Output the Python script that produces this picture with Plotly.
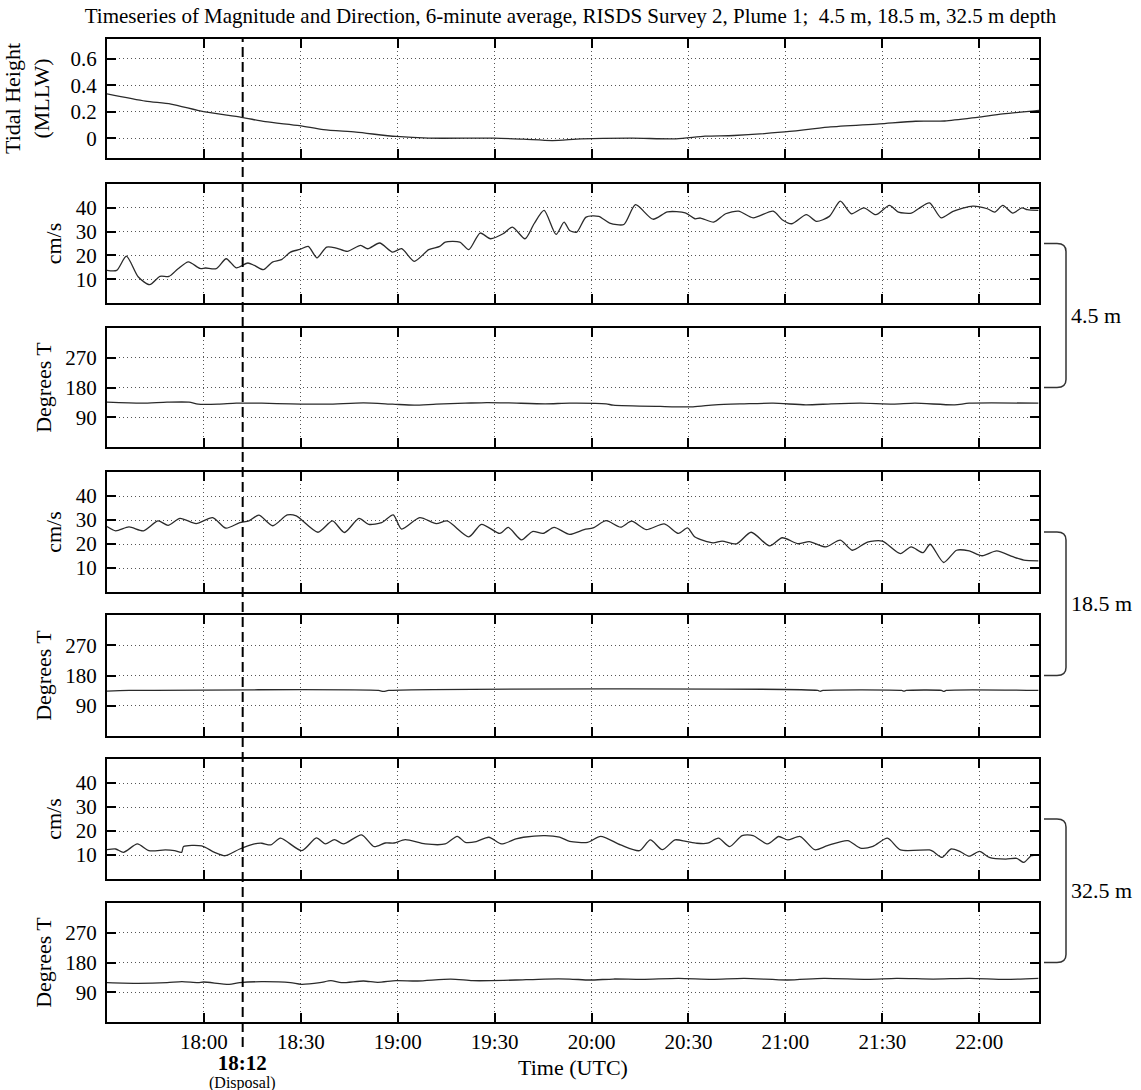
import plotly.graph_objects as go
from plotly.subplots import make_subplots

FONT = "Liberation Serif, Times New Roman, serif"

# ---------------- data (time = minutes after 17:30 UTC) ----------------
x_end = 288.5
tick_minutes = [30, 60, 90, 120, 150, 180, 210, 240, 270]
tick_labels = ["18:00", "18:30", "19:00", "19:30", "20:00", "20:30", "21:00", "21:30", "22:00"]
disposal_minute = 42          # 18:12
disposal_label = "18:12"

tide_min = [0, 11.9, 19.8, 29.9, 41.6, 49, 59.6, 67, 77.1, 89.5, 99.6, 119.9, 128.9, 137.9,
            146.9, 162.6, 176.1, 185.1, 194.1, 208.7, 223.3, 239.1, 250.3, 259.3, 269.4, 277.3, 288.5]
tide_val = [0.335, 0.28, 0.258, 0.2, 0.158, 0.125, 0.095, 0.065, 0.045, 0.013, 0.0, 0.0, -0.008,
            -0.018, -0.005, 0.0, -0.005, 0.015, 0.02, 0.045, 0.083, 0.108, 0.128, 0.13, 0.158, 0.183, 0.21]

spd45_min = [0, 3, 6, 9.7, 13.2, 16.4, 19.2, 22, 25.2, 28.8, 30.5, 33.8, 36.9, 40, 43.6, 45.6, 48.4,
             51.2, 54, 56.8, 59.7, 62.3, 65, 68, 71, 74.4, 78.5, 80.7, 84.4, 88.4, 91.2, 95.1, 99.6,
             103, 104.7, 109.2, 112, 115.5, 118.7, 122.6, 125.5, 129.4, 132.2, 135.3, 139, 141.5,
             143.2, 145.4, 148.3, 152.2, 155.6, 160, 163.6, 169, 173.5, 179, 182, 183.7, 187.8, 191.5,
             195.5, 200, 206.2, 209, 212, 216.5, 219.6, 223.6, 227, 230.4, 234.3, 238, 242.2, 245,
             249, 251.2, 254.6, 258.2, 261.9, 268, 272.5, 274.8, 277.3, 280.4, 283.2, 284.9, 288.3]
spd45_val = [13.7, 13.7, 19.7, 10.9, 7.7, 11.2, 11.2, 14.4, 17.3, 14.5, 14.7, 14.4, 18.6, 14.8, 16.8,
             15.8, 14.0, 17.2, 18.2, 21.4, 22.5, 23.8, 19.0, 23.5, 23.1, 21.7, 24.2, 22.8, 25.2, 21.4,
             22.8, 17.5, 22.4, 23.8, 25.6, 25.6, 22.4, 29.4, 27.0, 29.1, 31.9, 27.0, 33.3, 38.9, 28.8,
             34.0, 30.5, 29.8, 36.1, 36.4, 33.6, 33.0, 41.3, 35.2, 38.3, 37.9, 35.4, 35.7, 34.0, 37.5,
             38.6, 35.8, 38.6, 35.0, 33.3, 37.1, 34.3, 36.4, 42.8, 37.5, 40.0, 37.1, 41.0, 38.2, 37.8,
             39.6, 42.1, 35.8, 38.5, 40.7, 39.6, 38.2, 41.0, 37.8, 40.0, 39.2, 38.9]

dir45_min = [0, 10.8, 18.6, 25.4, 28.2, 34.4, 40, 47.9, 56.9, 68.1, 79.4, 88.4, 95.1, 101.9, 110.9,
             117.6, 124.4, 135.6, 143.2, 154.5, 156.7, 171.3, 181.4, 188.2, 197.2, 206.2, 216.3,
             224.2, 233.2, 243.3, 250.1, 262.4, 266.9, 288.3]
dir45_val = [135.5, 132.5, 135.5, 135.5, 129.6, 129.6, 132.5, 132.5, 130.5, 129.6, 133.5, 129.6, 126.6,
             129.6, 132.5, 134.5, 133.5, 130.5, 132.5, 130.5, 126.6, 122.6, 121.6, 127.6, 130.5, 132.5,
             127.6, 130.5, 132.5, 129.6, 132.5, 127.6, 132.5, 132.5]

spd185_min = [0, 2.7, 6.8, 11.3, 15.8, 18.9, 22.6, 27.6, 32.7, 36.8, 41.1, 43.9, 47, 51.3, 55.8, 58.6,
              65.3, 69.8, 73.5, 78, 81, 85, 88.6, 91.2, 96.8, 101.9, 105.3, 112, 115.9, 121.6, 124.2,
              128.3, 131.7, 135, 138.4, 143.2, 147.7, 150.5, 154.5, 159, 162.4, 166.9, 172.5, 176.9,
              179.7, 182, 187.6, 190.4, 194.9, 199.4, 205.1, 209, 214, 217.4, 222.5, 227, 230.7, 235.4,
              240, 245.6, 248.9, 252.6, 254.8, 259, 263, 266.9, 270.9, 275.4, 280.4, 283.8, 288.3]
spd185_val = [27.3, 25.5, 27.1, 25.5, 29.6, 27.8, 30.7, 28.5, 31.0, 26.6, 28.9, 29.6, 32.0, 27.6, 32.1,
              31.7, 24.9, 29.6, 24.8, 30.7, 28.2, 28.9, 32.1, 26.2, 31.0, 28.5, 29.6, 23.0, 28.2, 24.4,
              26.9, 21.7, 25.2, 24.4, 26.9, 24.0, 26.0, 26.7, 29.7, 27.0, 29.5, 26.0, 28.4, 24.4, 26.7,
              22.9, 20.5, 21.2, 20.1, 24.9, 19.2, 22.6, 20.1, 21.0, 18.8, 21.6, 17.4, 20.8, 21.2, 16.0,
              18.8, 16.4, 19.9, 12.3, 17.4, 17.1, 15.1, 17.1, 14.7, 13.3, 13.0]

dir185_min = [0, 6.8, 84, 85.6, 87.2, 220, 220.8, 221.6, 246, 246.7, 247.4, 258.3, 259, 259.8, 288.3]
dir185_val = [133.5, 135.5, 135.5, 132.5, 135.5, 135.5, 133.0, 135.5, 135.5, 133.5, 135.5, 135.5,
              132.5, 135.5, 135.5]

spd325_min = [0, 2.7, 5.1, 9.4, 13, 18.1, 20.9, 23.1, 23.7, 29.3, 33.3, 36.6, 41.1, 45.6, 47.9, 50.7,
              53.7, 60.3, 64.8, 67.6, 70.4, 73.2, 78.8, 82.7, 86.1, 88.9, 92.3, 98.5, 104.7, 108.4,
              110.9, 114.3, 118.2, 122.1, 126.6, 128.9, 135.6, 140.1, 143.2, 148.8, 152.8, 159, 164.8,
              168.2, 171.9, 175.8, 179.2, 182.6, 185.9, 189.3, 192.7, 196.6, 200, 204.5, 207.9, 210.7,
              214.6, 219.1, 223, 229.3, 233.2, 237.1, 241.6, 245.6, 254.6, 255.7, 258.5, 261.3, 264.1,
              266.9, 270.1, 273.1, 278.2, 281.6, 283.8, 286.1, 288.3]
spd325_val = [12.2, 12.5, 11.1, 14.6, 11.8, 12.1, 11.8, 11.1, 13.5, 13.8, 11.1, 9.7, 12.5, 14.6, 14.9,
              14.2, 17.0, 11.8, 17.1, 14.6, 16.4, 14.6, 18.4, 13.5, 15.0, 15.0, 16.4, 14.6, 14.6, 17.8,
              15.3, 15.6, 17.4, 14.6, 16.7, 17.4, 18.1, 17.4, 15.7, 15.3, 17.8, 14.2, 11.8, 16.3, 12.2,
              16.3, 15.7, 14.9, 14.9, 17.0, 13.5, 18.1, 18.1, 14.6, 17.7, 16.3, 17.7, 12.2, 13.9, 16.0,
              12.9, 13.6, 17.0, 12.1, 12.1, 11.5, 9.0, 12.5, 11.4, 9.5, 11.5, 9.0, 8.3, 8.6, 6.9, 9.7, 10.0]

dir325_min = [0, 9.7, 18.6, 23.2, 28.2, 29.9, 37.8, 41.1, 47.9, 56.8, 60.1, 65.9, 69.3, 72.6, 79.4,
              83.8, 89.5, 96.2, 106.4, 113.1, 118.8, 126.6, 135.6, 143.2, 149.4, 156.7, 165.7, 176.9,
              187.3, 197.2, 210.6, 221.9, 235.4, 244.4, 255.7, 267, 278.2, 288.3]
dir325_val = [119, 117, 119, 122, 119, 121, 114, 119, 122, 119, 114, 119, 125, 119, 124, 120, 125, 124,
              130, 125, 125, 127, 130, 130, 127, 130, 129, 132, 129, 132, 127, 132, 129, 132, 130, 132,
              129, 132]

depth_labels = ["4.5 m", "18.5 m", "32.5 m"]

# ---------------- layout geometry ----------------
W, H = 1141, 1090
ML, MR, MT, MB = 107, 102, 39, 68
PW, PH = W - ML - MR, H - MT - MB
tops = [39, 184, 328, 472, 615, 759, 903]
bottoms = [158, 303, 447, 592, 736, 879, 1022]
domains = [[(H - MB - b) / PH, (H - MB - t) / PH] for t, b in zip(tops, bottoms)]


def px_x(px):
    return (px - ML) / PW


def px_y(py):
    return (H - MB - py) / PH


fig = make_subplots(rows=7, cols=1, shared_xaxes=True, vertical_spacing=0.02)

series = [
    (tide_min, tide_val), (spd45_min, spd45_val), (dir45_min, dir45_val),
    (spd185_min, spd185_val), (dir185_min, dir185_val),
    (spd325_min, spd325_val), (dir325_min, dir325_val),
]
for i, (xm, yv) in enumerate(series):
    fig.add_trace(go.Scatter(x=xm, y=yv, mode="lines",
                             line=dict(color="#2a2a2a", width=1.3, shape="spline", smoothing=0.7),
                             showlegend=False, hoverinfo="skip"), row=i + 1, col=1)

grid = dict(showgrid=True, gridcolor="#555555", griddash="1px,3px", gridwidth=1,
            zeroline=False, showline=True, linecolor="black", linewidth=2,
            ticks="inside", ticklen=9, tickwidth=2, tickcolor="black",
            mirror="allticks", automargin=False,
            tickfont=dict(family=FONT, size=21, color="black"))

for i in range(7):
    xa = "xaxis" if i == 0 else f"xaxis{i + 1}"
    ya = "yaxis" if i == 0 else f"yaxis{i + 1}"
    fig.layout[xa].update(range=[0, x_end], tickvals=tick_minutes, ticktext=tick_labels,
                          showticklabels=(i == 6), ticklabelstandoff=0, domain=[0, 1], **grid)
    fig.layout[ya].update(domain=domains[i], ticklabelstandoff=4, **grid)
    if i == 0:
        fig.layout[ya].update(range=[-0.15, 0.75], tickvals=[0, 0.2, 0.4, 0.6],
                              ticktext=["0", "0.2", "0.4", "0.6"],
                              title=dict(text="Tidal Height<br>(MLLW)", standoff=22,
                                         font=dict(family=FONT, size=22, color="black")))
    elif i % 2 == 1:
        fig.layout[ya].update(range=[0, 50], tickvals=[10, 20, 30, 40],
                              title=dict(text="cm/s", standoff=8,
                                         font=dict(family=FONT, size=22, color="black")))
    else:
        fig.layout[ya].update(range=[0, 360], tickvals=[90, 180, 270],
                              title=dict(text="Degrees T", standoff=8,
                                         font=dict(family=FONT, size=22, color="black")))

fig.layout.xaxis7.title = dict(text="Time (UTC)", standoff=6,
                               font=dict(family=FONT, size=22, color="black"))

shapes = []
# disposal dashed line
shapes.append(dict(type="line", xref="x7", yref="paper", x0=disposal_minute, x1=disposal_minute,
                   y0=px_y(1047), y1=1.0, line=dict(color="black", width=2, dash="10px,5px"),
                   layer="above"))

annotations = [
    dict(text=(f"<span style='font-size:21px'><b>{disposal_label}</b></span><br>"
               "<span style='font-size:16px'>(Disposal)</span>"),
         xref="x7", yref="paper", x=disposal_minute, y=px_y(1071),
         showarrow=False, font=dict(family=FONT, size=14, color="black"), yanchor="middle"),
]

# depth braces: from 25 cm/s on the speed axis to 180 deg on the direction axis
xa_, xb_, xc_ = px_x(1044), px_x(1057), px_x(1066)
ry = 8 / PH
for k, lab in enumerate(depth_labels):
    ds, dd = domains[1 + 2 * k], domains[2 + 2 * k]
    yt = ds[0] + (25 - 0) / 50 * (ds[1] - ds[0])
    yb = dd[0] + (180 - 0) / 360 * (dd[1] - dd[0])
    path = (f"M {xa_},{yt} L {xb_},{yt} Q {xc_},{yt} {xc_},{yt - ry} "
            f"L {xc_},{yb + ry} Q {xc_},{yb} {xb_},{yb} L {xa_},{yb}")
    shapes.append(dict(type="path", xref="paper", yref="paper", path=path,
                       line=dict(color="#333333", width=1.5)))
    annotations.append(dict(text=lab, xref="paper", yref="paper", x=px_x(1069), y=(yt + yb) / 2,
                            xanchor="left", yanchor="middle", showarrow=False,
                            font=dict(family=FONT, size=22, color="black")))

fig.update_layout(
    width=W, height=H, margin=dict(l=ML, r=MR, t=MT, b=MB, autoexpand=False),
    paper_bgcolor="white", plot_bgcolor="white", template="none",
    title=dict(text="Timeseries of Magnitude and Direction, 6-minute average, RISDS Survey 2, "
                    "Plume 1;\u00a0 4.5 m, 18.5 m, 32.5 m depth",
               x=0.5, xanchor="center", y=1 - 16 / H, yanchor="middle", yref="container",
               font=dict(family=FONT, size=21, color="black")),
    shapes=shapes, annotations=annotations, showlegend=False,
)

fig.write_html("out.html", config={"displayModeBar": False},
               post_script="document.body.style.margin='0';")
